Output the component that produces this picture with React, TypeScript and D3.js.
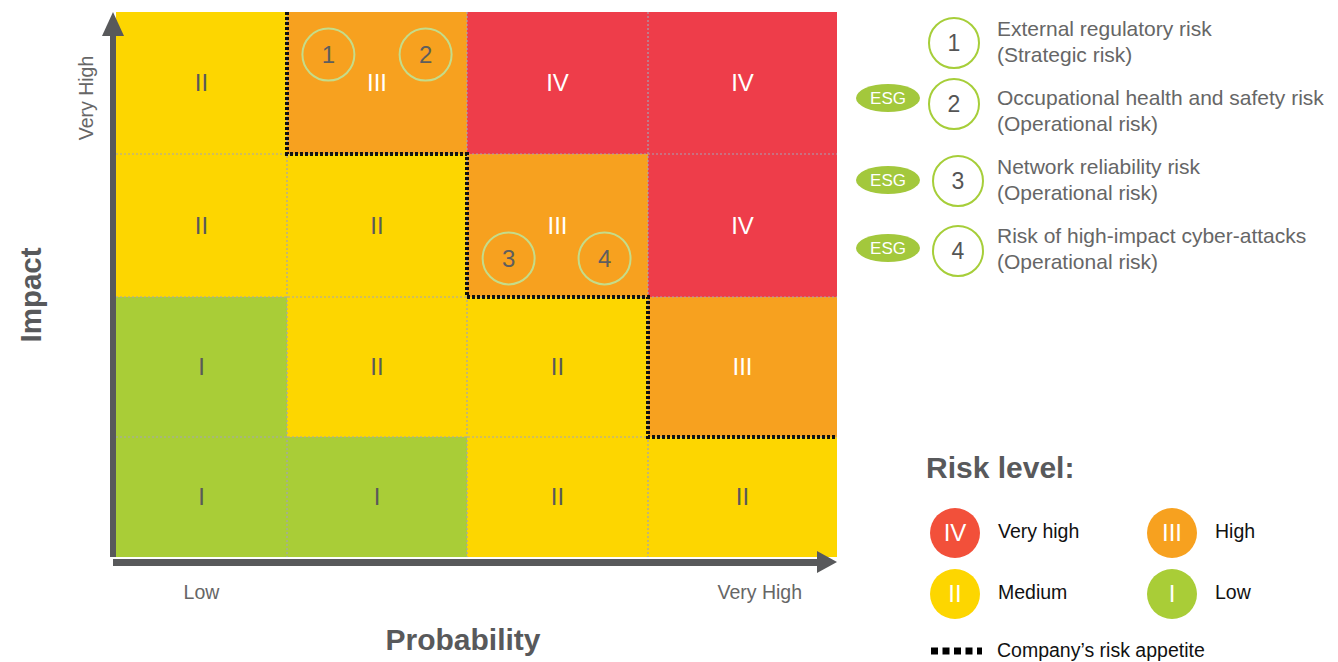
import React from 'react';
import * as d3 from 'd3';

// risk matrix, rows listed from top (Very High impact) to bottom
const riskGrid = [
  ['II', 'III', 'IV', 'IV'],
  ['II', 'II', 'III', 'IV'],
  ['I', 'II', 'II', 'III'],
  ['I', 'I', 'II', 'II'],
];

// risks placed inside the grid: probability / impact in cell units (0..4)
const riskIds = [1, 2, 3, 4];
const riskProb = [1.23, 1.77, 2.23, 2.76];
const riskImpact = [3.7, 3.7, 2.27, 2.27];
const riskTitles = [
  'External regulatory risk',
  'Occupational health and safety risk',
  'Network reliability risk',
  'Risk of high-impact cyber-attacks',
];
const riskTypes = ['(Strategic risk)', '(Operational risk)', '(Operational risk)', '(Operational risk)'];
const riskEsg = [false, true, true, true];

// company's risk appetite boundary (cell units)
const appetite: [number, number][] = [
  [1, 4], [1, 3], [2, 3], [2, 2], [3, 2], [3, 1], [4, 1],
];

const levels = ['IV', 'III', 'II', 'I'];
const levelNames = ['Very high', 'High', 'Medium', 'Low'];

const cellColor: Record<string, string> = {
  I: '#a9cd37',
  II: '#fdd600',
  III: '#f7a11f',
  IV: '#ee3d4a',
};
const legendColor: Record<string, string> = {
  I: '#a9cd37',
  II: '#fdd600',
  III: '#f7a11f',
  IV: '#f2503a',
};

const font = '"Liberation Sans", Arial, sans-serif';

export default function App() {
  const width = 1338;
  const height = 662;

  const x = d3.scaleLinear().domain([0, 1, 2, 3, 4]).range([116, 287, 467, 648, 837]);
  const y = d3.scaleLinear().domain([0, 1, 2, 3, 4]).range([557, 437, 297, 154, 12]);

  const line = d3.line<[number, number]>().x(d => x(d[0])).y(d => y(d[1]));

  const cells = riskGrid.flatMap((row, r) =>
    row.map((lvl, c) => ({ lvl, c, impact: 3 - r }))
  );

  // layout of the risk list on the right
  const circleY = [43, 104, 181, 251];
  const circleX = [954, 954, 958, 958];
  const textY = [29, 98, 167, 236];
  const esgY = [0, 98, 180, 248];

  return (
    <svg width={width} height={height} style={{ position: 'absolute', left: 0, top: 0 }} fontFamily={font}>
      <rect width={width} height={height} fill="#fff" />

      {/* cells */}
      {cells.map((d, i) => (
        <g key={i}>
          <rect
            x={x(d.c)}
            y={y(d.impact + 1)}
            width={x(d.c + 1) - x(d.c)}
            height={y(d.impact) - y(d.impact + 1)}
            fill={cellColor[d.lvl]}
          />
          <text
            x={(x(d.c) + x(d.c + 1)) / 2}
            y={(y(d.impact) + y(d.impact + 1)) / 2}
            dy="0.35em"
            textAnchor="middle"
            fontSize={24}
            fill={d.lvl === 'I' || d.lvl === 'II' ? '#5a5a5a' : '#fff'}
          >
            {d.lvl}
          </text>
        </g>
      ))}

      {/* dotted cell dividers */}
      {[1, 2, 3].map(v => (
        <g key={v}>
          <line x1={x(v)} x2={x(v)} y1={y(4)} y2={y(0)} stroke="#a3a3b5" strokeWidth={1.2} strokeDasharray="2,2" />
          <line x1={x(0)} x2={x(4)} y1={y(v)} y2={y(v)} stroke="#a3a3b5" strokeWidth={1.2} strokeDasharray="2,2" />
        </g>
      ))}

      {/* risk appetite */}
      <path d={line(appetite) || ''} fill="none" stroke="#111" strokeWidth={4} strokeDasharray="3,2" />

      {/* risks on grid */}
      {riskIds.map((id, i) => (
        <g key={id} transform={`translate(${x(riskProb[i])},${y(riskImpact[i])})`}>
          <circle r={26} fill="none" stroke="#c4dc8a" strokeWidth={2} />
          <text dy="0.35em" textAnchor="middle" fontSize={24} fill="#5e5e5e">{id}</text>
        </g>
      ))}

      {/* axes */}
      <rect x={110} y={30} width={6} height={527} fill="#58595b" />
      <path d={`M${113},${12} L${124},${36} L${102},${36} Z`} fill="#58595b" />
      <rect x={113} y={559} width={708} height={7} fill="#58595b" />
      <path d={`M${837},${562} L${817},${551} L${817},${573} Z`} fill="#58595b" />

      <text transform={`translate(93,${y(3.5) + 15}) rotate(-90)`} textAnchor="middle" fontSize={19.5} fill="#666">Very High</text>
      <text x={x(0.5)} y={599} textAnchor="middle" fontSize={19.5} fill="#666">Low</text>
      <text x={802} y={599} textAnchor="end" fontSize={19.5} fill="#666">Very High</text>

      <text x={463} y={650} textAnchor="middle" fontSize={30} fontWeight="bold" fill="#58595b">Probability</text>
      <text transform={`translate(41,${295}) rotate(-90)`} textAnchor="middle" fontSize={29.5} fontWeight="bold" fill="#58595b">Impact</text>

      {/* risk list */}
      {riskIds.map((id, i) => (
        <g key={id}>
          {riskEsg[i] && (
            <g>
              <ellipse cx={888} cy={esgY[i]} rx={32} ry={14} fill="#a3c83c" />
              <text x={888} y={esgY[i]} dy="0.35em" textAnchor="middle" fontSize={17} fill="#fff">ESG</text>
            </g>
          )}
          <circle cx={circleX[i]} cy={circleY[i]} r={25} fill="#fff" stroke="#a6ce39" strokeWidth={2} />
          <text x={circleX[i]} y={circleY[i]} dy="0.35em" textAnchor="middle" fontSize={23} fill="#555">{id}</text>
          <text x={997} y={textY[i]} dy="0.35em" fontSize={21} fill="#666">{riskTitles[i]}</text>
          <text x={997} y={textY[i] + 26} dy="0.35em" fontSize={21} fill="#666">{riskTypes[i]}</text>
        </g>
      ))}

      {/* risk level legend */}
      <text x={926} y={478} fontSize={30} fontWeight="bold" fill="#58595b">Risk level:</text>
      {levels.map((lvl, i) => {
        const cx = i % 2 === 0 ? 955 : 1172;
        const cy = i < 2 ? 533 : 594;
        return (
          <g key={lvl}>
            <circle cx={cx} cy={cy} r={25} fill={legendColor[lvl]} />
            <text x={cx} y={cy} dy="0.35em" textAnchor="middle" fontSize={24} fill="#fff">{lvl}</text>
            <text x={cx + 43} y={cy - 2} dy="0.35em" fontSize={19.5} fill="#111">{levelNames[i]}</text>
          </g>
        );
      })}
      <line x1={931} x2={982} y1={651} y2={651} stroke="#000" strokeWidth={7} strokeDasharray="7,4.5" />
      <text x={997} y={650} dy="0.35em" fontSize={19.5} fill="#111">Company’s risk appetite</text>
    </svg>
  );
}
